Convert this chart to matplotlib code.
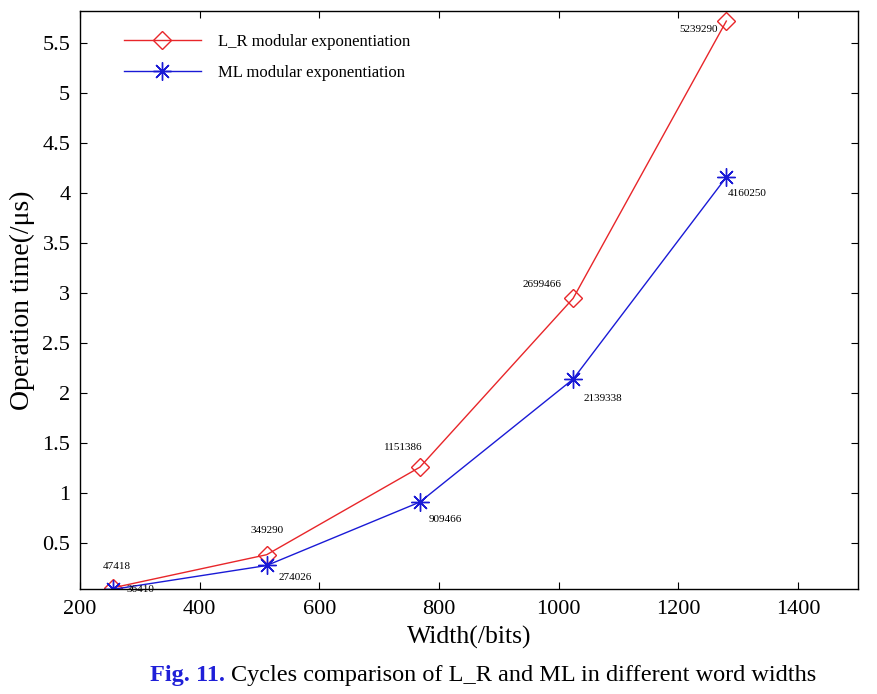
import numpy as np
import matplotlib.pyplot as plt

plt.rcParams['font.family'] = ['Liberation Serif', 'DejaVu Serif']

# word widths (bits)
widths = [256, 512, 768, 1024, 1280]
# operation time (us)
lr_time = [0.052, 0.382, 1.258, 2.947, 5.722]
ml_time = [0.036, 0.274, 0.909, 2.139, 4.160]
# cycle counts written next to the points
lr_cycles = ['47418', '349290', '1151386', '2699466', '5239290']
ml_cycles = ['36410', '274026', '909466', '2139338', '4160250']

# label placement (pixel offsets, alignment)
lr_offs = [(-11, 21, 'left'), (0, 24, 'center'), (3, 20, 'right'), (-12, 14, 'right'), (-9, -8, 'right')]
ml_offs = [(13, 0, 'left'), (12, -12, 'left'), (9, -17, 'left'), (10, -19, 'left'), (1, -16, 'left')]

red = '#e8262a'
blue = '#1a1ad6'

fig = plt.figure(figsize=(8.78, 6.94), dpi=100)
ax = fig.add_axes([0.0911, 0.1509, 0.8861, 0.8337])

ax.plot(widths, lr_time, color=red, lw=1.0, marker='D', markersize=9.5,
        markerfacecolor='none', markeredgecolor=red, markeredgewidth=1.0,
        label='L_R modular exponentiation')
ax.plot(widths, ml_time, color=blue, lw=1.0, marker=(8, 2, 0), markersize=13,
        markeredgecolor=blue, markeredgewidth=1.0,
        label='ML modular exponentiation')

for x, y, s, (dx, dy, ha) in zip(widths, lr_time, lr_cycles, lr_offs):
    ax.annotate(s, (x, y), xytext=(dx, dy), textcoords='offset pixels',
                ha=ha, va='center', fontsize=8)
for x, y, s, (dx, dy, ha) in zip(widths, ml_time, ml_cycles, ml_offs):
    ax.annotate(s, (x, y), xytext=(dx, dy), textcoords='offset pixels',
                ha=ha, va='center', fontsize=8)

ax.set_xlim(200, 1500)
ax.set_ylim(0.036, 5.826)
ax.set_xticks(np.arange(200, 1401, 200))
ax.set_yticks(np.arange(0.5, 5.51, 0.5))
ax.set_yticklabels(['0.5', '1', '1.5', '2', '2.5', '3', '3.5', '4', '4.5', '5', '5.5'])
ax.tick_params(direction='in', length=5, width=0.8, top=True, right=True,
               labelsize=16)
ax.tick_params(axis='x', pad=8)
ax.tick_params(axis='y', pad=7)
for sp in ax.spines.values():
    sp.set_linewidth(1.0)

ax.set_xlabel('Width(/bits)', fontsize=18.5, labelpad=5)
ax.set_ylabel('Operation time(/\u03bcs)', fontsize=20, labelpad=5)

ax.legend(loc='upper left', bbox_to_anchor=(0.0566, 0.96), frameon=False,
          fontsize=12, handlelength=4.6, handletextpad=1.05, labelspacing=0.9,
          borderpad=0, borderaxespad=0)

# caption: bold blue figure number followed by plain text
t1 = fig.text(0.171, 0.026, 'Fig. 11.', color='#1f1fd8', fontweight='bold',
              fontsize=17.5, ha='left', va='center')
fig.canvas.draw()
bb = t1.get_window_extent()
x2 = (bb.x1 + 6) / fig.bbox.width
fig.text(x2, 0.026, 'Cycles comparison of L_R and ML in different word widths',
         color='black', fontsize=17.5, ha='left', va='center')

fig.savefig('out.png', dpi=100)
